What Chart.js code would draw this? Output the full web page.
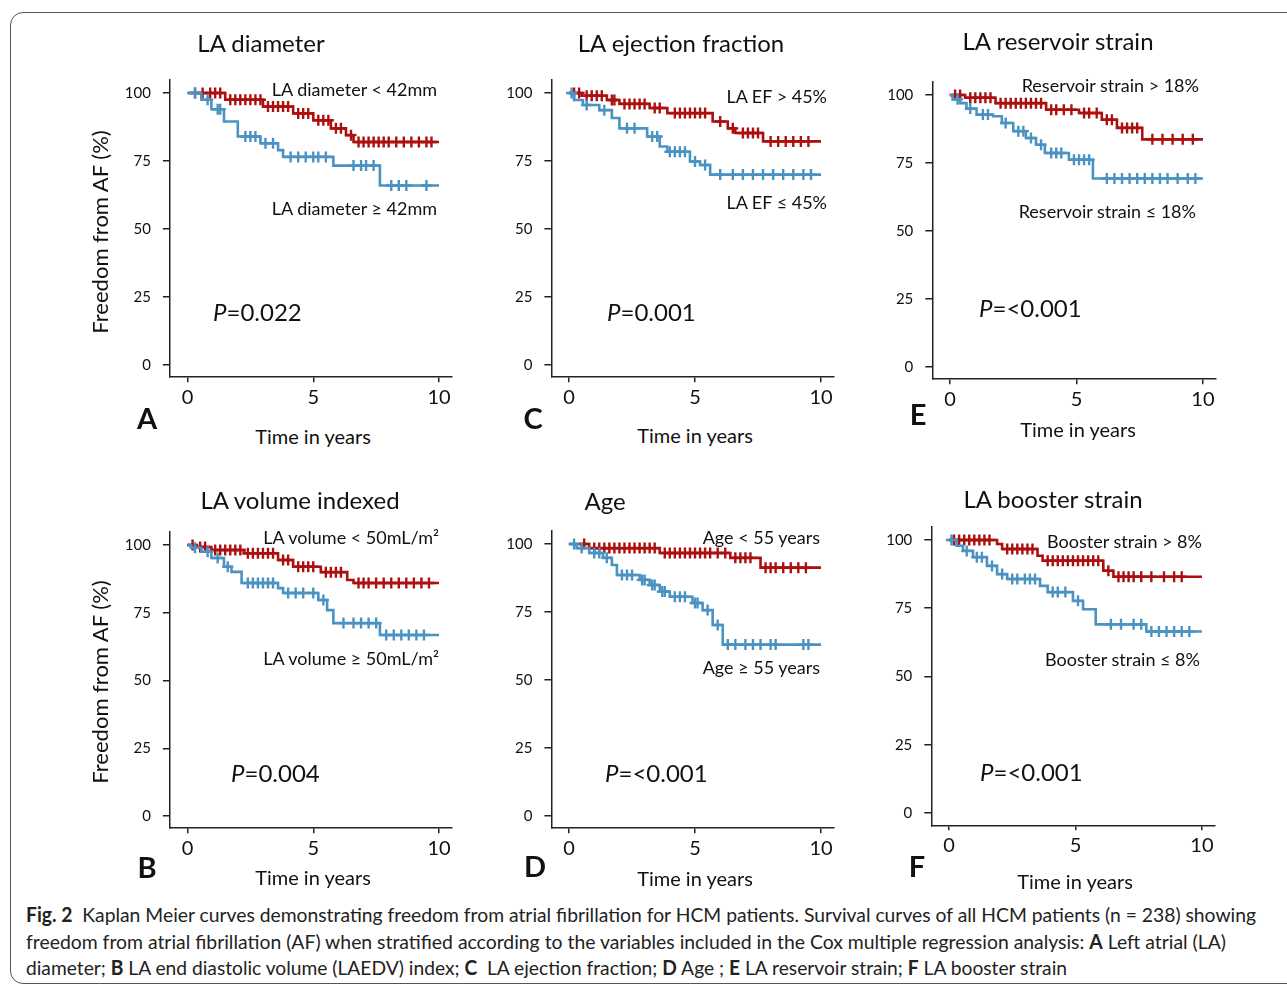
<!DOCTYPE html>
<html>
<head>
<meta charset="utf-8">
<script src="https://cdn.jsdelivr.net/npm/chart.js@4.4.1/dist/chart.umd.min.js"></script>
<style>
html, body { margin: 0; padding: 0; background: #fff; }
body { width: 1287px; height: 986px; position: relative; overflow: hidden; font-family: Lato, sans-serif; color: #111; }
#frame { position: absolute; left: 10px; top: 12px; width: 1330px; height: 972px; border: 1px solid #555; border-radius: 13px; box-sizing: border-box; }
canvas { position: absolute; }
.t { position: absolute; white-space: nowrap; line-height: 1; }
.cap { position: absolute; left: 26px; top: 0; white-space: nowrap; line-height: 1; font-family: Lato, sans-serif; font-size: 20px; color: #222; transform-origin: 0 50%; }
</style>
</head>
<body>
<div id="frame"></div>
<div class="cap" data-y="914"><b>Fig. 2</b>&nbsp; Kaplan Meier curves demonstrating freedom from atrial fibrillation for HCM patients. Survival curves of all HCM patients (n = 238) showing</div>
<div class="cap" data-y="941">freedom from atrial fibrillation (AF) when stratified according to the variables included in the Cox multiple regression analysis: <b>A</b> Left atrial (LA)</div>
<div class="cap" data-y="967">diameter; <b>B</b> LA end diastolic volume (LAEDV) index; <b>C</b> &nbsp;LA ejection fraction; <b>D</b> Age ; <b>E</b> LA reservoir strain; <b>F</b> LA booster strain</div>
<script>
// ticks
const xTicks = [0, 5, 10];
const yTicks = [0, 25, 50, 75, 100];

// A - LA diameter
const aRedTime = [0, 1.5, 3.0, 4.2, 5.0, 5.7, 6.3, 6.6, 10];
const aRedSurv = [100, 97.5, 95, 92.5, 90, 87, 84.5, 82, 82];
const aRedCens = [0.3, 0.6, 0.9, 1.1, 1.3, 1.7, 1.9, 2.1, 2.3, 2.5, 2.7, 2.9, 3.2, 3.4, 3.6, 3.8, 4.0, 4.4, 4.6, 4.8, 5.2, 5.4, 5.6, 5.9, 6.1, 6.5, 6.8, 7.0, 7.2, 7.4, 7.6, 7.8, 8.0, 8.3, 8.6, 8.9, 9.2, 9.5, 9.7];
const aBlueTime = [0, 0.55, 0.95, 1.45, 2.0, 2.9, 3.6, 3.8, 5.8, 7.65, 10];
const aBlueSurv = [100, 97.5, 94, 89.5, 84, 81.5, 79, 76.5, 73.3, 66, 66];
const aBlueCens = [0.3, 0.8, 1.2, 1.3, 2.3, 2.5, 2.7, 3.1, 3.4, 4.1, 4.4, 4.7, 5.0, 5.2, 5.5, 6.6, 6.9, 7.1, 7.4, 8.1, 8.4, 8.7, 9.5];

// B - LA volume indexed
const bRedTime = [0, 0.3, 0.95, 2.25, 3.6, 4.2, 5.3, 6.35, 6.6, 10];
const bRedSurv = [100, 99.3, 98.2, 97, 94.5, 92, 90, 87.1, 86, 86];
const bRedCens = [0.2, 0.5, 0.7, 1.1, 1.3, 1.5, 1.7, 1.9, 2.1, 2.4, 2.6, 2.8, 3.0, 3.2, 3.4, 3.8, 4.0, 4.4, 4.6, 4.8, 5.0, 5.5, 5.7, 5.9, 6.1, 6.8, 7.0, 7.2, 7.5, 7.8, 8.1, 8.4, 8.7, 9.0, 9.3, 9.6];
const bBlueTime = [0, 0.15, 0.55, 0.95, 1.45, 1.75, 2.15, 3.6, 3.8, 5.2, 5.55, 5.8, 7.65, 10];
const bBlueSurv = [100, 99, 97.5, 95.2, 92, 90.1, 86, 84.1, 82.3, 79.7, 76, 71.2, 66.8, 66.8];
const bBlueCens = [0.3, 0.8, 1.2, 1.6, 2.4, 2.6, 2.8, 3.0, 3.2, 3.4, 4.0, 4.3, 4.6, 5.0, 5.4, 6.2, 6.6, 6.9, 7.2, 7.5, 7.9, 8.2, 8.5, 8.8, 9.1, 9.4];

// C - LA ejection fraction
const cRedTime = [0, 0.5, 1.5, 2.0, 3.2, 3.9, 5.7, 6.3, 6.6, 7.7, 10];
const cRedSurv = [100, 99, 97.4, 96, 94.5, 92.6, 89.5, 87, 85.3, 82.2, 82.2];
const cRedCens = [0.2, 0.4, 0.7, 0.9, 1.1, 1.3, 1.7, 1.8, 2.2, 2.4, 2.6, 2.8, 3.0, 3.4, 3.6, 4.2, 4.4, 4.6, 4.8, 5.0, 5.2, 5.4, 6.0, 6.5, 6.9, 7.1, 7.3, 7.5, 8.0, 8.3, 8.6, 8.9, 9.2, 9.5];
const cBlueTime = [0, 0.2, 0.55, 1.2, 1.7, 2.0, 3.1, 3.6, 3.9, 4.8, 5.2, 5.6, 10];
const cBlueSurv = [100, 97.4, 95.6, 93.7, 90.8, 87, 84, 80.3, 78.4, 74.8, 73.5, 70, 70];
const cBlueCens = [0.1, 0.7, 1.4, 2.3, 2.6, 3.3, 3.5, 4.0, 4.2, 4.4, 4.6, 5.0, 5.4, 6.0, 6.5, 6.9, 7.3, 7.7, 8.1, 8.5, 8.9, 9.3, 9.6];

// D - Age
const dRedTime = [0, 0.8, 3.6, 6.4, 7.6, 10];
const dRedSurv = [100, 98.5, 96.7, 94.9, 91.3, 91.3];
const dRedCens = [0.6, 1.0, 1.2, 1.4, 1.6, 1.8, 2.0, 2.2, 2.4, 2.6, 2.8, 3.0, 3.2, 3.4, 3.8, 4.0, 4.2, 4.4, 4.6, 4.8, 5.0, 5.2, 5.4, 5.6, 5.9, 6.2, 6.6, 6.8, 7.0, 7.2, 7.8, 8.0, 8.2, 8.5, 8.8, 9.1, 9.4];
const dBlueTime = [0, 0.3, 0.8, 1.35, 1.7, 1.9, 2.8, 3.2, 3.6, 4.0, 4.9, 5.3, 5.7, 6.1, 10];
const dBlueSurv = [100, 98.5, 96.7, 94.9, 92.3, 88.6, 86.8, 84.9, 82.5, 80.6, 78.3, 75.7, 70.2, 63, 63];
const dBlueCens = [0.2, 0.5, 1.0, 1.2, 1.5, 2.1, 2.3, 2.5, 2.9, 3.0, 3.3, 3.4, 3.7, 3.8, 4.2, 4.4, 4.6, 5.0, 5.1, 5.5, 5.9, 6.3, 6.6, 7.0, 7.3, 7.6, 8.0, 8.2, 9.3, 9.5];

// E - LA reservoir strain
const eRedTime = [0, 0.6, 1.8, 3.8, 5.1, 6.0, 6.6, 7.6, 10];
const eRedSurv = [100, 99, 97, 94.6, 93.4, 90.9, 87.9, 83.7, 83.7];
const eRedCens = [0.2, 0.4, 0.8, 1.0, 1.2, 1.4, 1.6, 2.0, 2.2, 2.4, 2.6, 2.8, 3.0, 3.2, 3.4, 3.6, 4.0, 4.2, 4.5, 4.8, 5.3, 5.5, 5.8, 6.2, 6.4, 6.8, 7.0, 7.2, 7.4, 8.0, 8.4, 8.8, 9.2, 9.6];
const eBlueTime = [0, 0.1, 0.4, 0.65, 1.05, 1.7, 2.05, 2.5, 3.0, 3.4, 3.75, 4.7, 5.65, 10];
const eBlueSurv = [100, 98.4, 97, 95, 92.8, 92.2, 89.7, 86.7, 84.2, 81.7, 78.7, 76.2, 69.3, 69.3];
const eBlueCens = [0.3, 0.8, 1.3, 1.5, 2.2, 2.7, 2.9, 3.2, 3.6, 4.0, 4.2, 4.4, 4.9, 5.1, 5.3, 5.5, 6.2, 6.5, 6.8, 7.1, 7.4, 7.7, 8.0, 8.3, 8.6, 9.0, 9.4, 9.7];

// F - LA booster strain
const fRedTime = [0, 1.9, 2.1, 3.5, 3.7, 6.1, 6.5, 10];
const fRedSurv = [100, 98.5, 96.7, 94.2, 92.4, 88.7, 86.5, 86.5];
const fRedCens = [0.2, 0.4, 0.6, 0.8, 1.0, 1.2, 1.4, 1.6, 2.3, 2.5, 2.7, 2.9, 3.1, 3.3, 3.9, 4.1, 4.3, 4.5, 4.7, 4.9, 5.1, 5.3, 5.5, 5.7, 5.9, 6.3, 6.7, 6.9, 7.1, 7.3, 7.6, 8.0, 8.5, 8.9, 9.2];
const fBlueTime = [0, 0.3, 0.55, 0.95, 1.5, 1.9, 2.3, 3.6, 3.9, 4.9, 5.3, 5.8, 7.8, 10];
const fBlueSurv = [100, 97.9, 96, 93.7, 90.5, 87.5, 85.7, 83.2, 80.9, 77.7, 74.6, 69.1, 66.5, 66.5];
const fBlueCens = [0.1, 0.7, 1.1, 1.3, 1.7, 2.1, 2.5, 2.7, 3.0, 3.2, 3.4, 4.1, 4.3, 4.6, 5.1, 6.4, 6.8, 7.3, 7.6, 8.0, 8.3, 8.6, 8.9, 9.2, 9.5];

const RED = '#ad0f0f';
const BLUE = '#4a92c2';
const INK = '#222';

Chart.defaults.font.family = 'Lato, sans-serif';
Chart.defaults.color = '#111';

function survAt(times, surv, t) {
    let s = surv[0];
    for (let i = 0; i < times.length; i++) if (times[i] <= t) s = surv[i];
    return s;
}

function curve(times, surv, color) {
    return {
        data: times.map((t, i) => ({ x: t, y: surv[i] })),
        showLine: true, stepped: true, borderColor: color, borderWidth: 2.6,
        pointRadius: 0, pointHoverRadius: 0, fill: false
    };
}

function censor(times, surv, cens, color) {
    return {
        data: cens.map(t => ({ x: t, y: survAt(times, surv, t) })),
        showLine: false, pointStyle: 'cross', pointRadius: 5.5, pointHoverRadius: 0,
        borderColor: color, borderWidth: 2.4
    };
}

// chart area of each panel on the page
const panels = [
    { box: [169.9, 79.4, 451.6, 377.2], blue: [aBlueTime, aBlueSurv, aBlueCens], red: [aRedTime, aRedSurv, aRedCens] },
    { box: [551.4, 79.4, 833.6, 377.2], blue: [cBlueTime, cBlueSurv, cBlueCens], red: [cRedTime, cRedSurv, cRedCens] },
    { box: [932.3, 81.4, 1215.6, 379.2], blue: [eBlueTime, eBlueSurv, eBlueCens], red: [eRedTime, eRedSurv, eRedCens] },
    { box: [169.9, 531.5, 451.6, 828.2], blue: [bBlueTime, bBlueSurv, bBlueCens], red: [bRedTime, bRedSurv, bRedCens] },
    { box: [551.4, 530.4, 833.6, 828.2], blue: [dBlueTime, dBlueSurv, dBlueCens], red: [dRedTime, dRedSurv, dRedCens] },
    { box: [931.3, 526.3, 1214.6, 825.3], blue: [fBlueTime, fBlueSurv, fBlueCens], red: [fRedTime, fRedSurv, fRedCens] }
];

function makePanel(p) {
    const [L, T, R, B] = p.box;
    const W = 62, H = 42, PT = 30, PR = 14;
    const cl = Math.floor(L - W), ct = Math.floor(T - PT);
    const cw = Math.ceil(R + PR) - cl, ch = Math.ceil(B + H) - ct;
    const cv = document.createElement('canvas');
    cv.width = cw; cv.height = ch;
    cv.style.left = cl + 'px'; cv.style.top = ct + 'px';
    cv.style.width = cw + 'px'; cv.style.height = ch + 'px';
    document.body.appendChild(cv);
    new Chart(cv, {
        type: 'scatter',
        data: {
            datasets: [
                curve(p.blue[0], p.blue[1], BLUE), censor(p.blue[0], p.blue[1], p.blue[2], BLUE),
                curve(p.red[0], p.red[1], RED), censor(p.red[0], p.red[1], p.red[2], RED)
            ]
        },
        options: {
            responsive: false, animation: false, devicePixelRatio: 1,
            layout: { padding: { left: L - W - cl, top: T - ct, right: cl + cw - R, bottom: ct + ch - B - H } },
            plugins: { legend: { display: false }, tooltip: { enabled: false } },
            events: [],
            scales: {
                x: {
                    type: 'linear', min: -0.7, max: 10.5,
                    afterBuildTicks: s => { s.ticks = xTicks.map(v => ({ value: v })); },
                    afterFit: s => { s.height = H; },
                    grid: { drawOnChartArea: false, drawTicks: true, tickLength: 5, color: INK, lineWidth: 1.5 },
                    border: { display: true, color: INK, width: 1.5 },
                    ticks: { font: { size: 20 }, color: '#111', padding: 3, maxRotation: 0 }
                },
                y: {
                    type: 'linear', min: -4.5, max: 105,
                    afterBuildTicks: s => { s.ticks = yTicks.map(v => ({ value: v })); },
                    afterFit: s => { s.width = W; },
                    grid: { drawOnChartArea: false, drawTicks: true, tickLength: 7, color: INK, lineWidth: 1.5 },
                    border: { display: true, color: INK, width: 1.5 },
                    ticks: { font: { size: 15 }, color: '#111', padding: 12 }
                }
            }
        }
    });
}

panels.forEach(makePanel);

// text: [html, x, y, size, align, weight, rotate]
const texts = [
    ['LA diameter', 261, 43, 24, 'c'],
    ['LA ejection fraction', 681, 43, 24, 'c'],
    ['LA reservoir strain', 1058, 41, 24, 'c'],
    ['LA volume indexed', 300, 500, 24, 'c'],
    ['Age', 605, 501, 24, 'c'],
    ['LA booster strain', 1053, 499, 24, 'c'],
    ['A', 147, 417, 29, 'c', 'bold'],
    ['C', 533, 417, 29, 'c', 'bold'],
    ['E', 918, 413, 29, 'c', 'bold'],
    ['B', 147, 866, 29, 'c', 'bold'],
    ['D', 535, 865, 29, 'c', 'bold'],
    ['F', 917, 865, 29, 'c', 'bold'],
    ['Time in years', 313, 436, 20, 'c'],
    ['Time in years', 695, 435, 20, 'c'],
    ['Time in years', 1078, 429, 20, 'c'],
    ['Time in years', 313, 877, 20, 'c'],
    ['Time in years', 695, 878, 20, 'c'],
    ['Time in years', 1075, 881, 20, 'c'],
    ['Freedom from AF (%)', 100, 232, 22, 'c', 'normal', true],
    ['Freedom from AF (%)', 100, 682, 22, 'c', 'normal', true],
    ['LA diameter &lt; 42mm', 437, 89, 18, 'r'],
    ['LA diameter ≥ 42mm', 437, 208, 18, 'r'],
    ['LA EF &gt; 45%', 827, 96, 18, 'r'],
    ['LA EF ≤ 45%', 827, 202, 18, 'r'],
    ['Reservoir strain &gt; 18%', 1199, 85, 18, 'r'],
    ['Reservoir strain ≤ 18%', 1196, 211, 18, 'r'],
    ['LA volume &lt; 50mL/m²', 439, 537, 18, 'r'],
    ['LA volume ≥ 50mL/m²', 439, 658, 18, 'r'],
    ['Age &lt; 55 years', 820, 537, 18, 'r'],
    ['Age ≥ 55 years', 820, 667, 18, 'r'],
    ['Booster strain &gt; 8%', 1202, 541, 18, 'r'],
    ['Booster strain ≤ 8%', 1200, 659, 18, 'r'],
    ['<i>P</i>=0.022', 213, 312, 24, 'l'],
    ['<i>P</i>=0.001', 607, 312, 24, 'l'],
    ['<i>P</i>=&lt;0.001', 979, 308, 24, 'l'],
    ['<i>P</i>=0.004', 231, 773, 24, 'l'],
    ['<i>P</i>=&lt;0.001', 605, 773, 24, 'l'],
    ['<i>P</i>=&lt;0.001', 980, 772, 24, 'l']
];

texts.forEach(([html, x, y, size, align, weight, rot]) => {
    const d = document.createElement('div');
    d.className = 't';
    d.innerHTML = html;
    d.style.fontSize = size + 'px';
    d.style.left = x + 'px';
    d.style.top = y + 'px';
    if (weight) d.style.fontWeight = weight;
    const tx = align === 'c' ? '-50%' : align === 'r' ? '-100%' : '0';
    d.style.transform = `translate(${tx},-50%)` + (rot ? ' rotate(-90deg)' : '');
    document.body.appendChild(d);
});

// squeeze caption lines to the widths of the reference
const capWidths = [1230, 1200, 1041];
document.querySelectorAll('.cap').forEach((el, i) => {
    const w = el.getBoundingClientRect().width;
    const h = el.getBoundingClientRect().height;
    el.style.top = (+el.dataset.y - h / 2) + 'px';
    el.style.transform = `scaleX(${capWidths[i] / w})`;
});
</script>
</body>
</html>
